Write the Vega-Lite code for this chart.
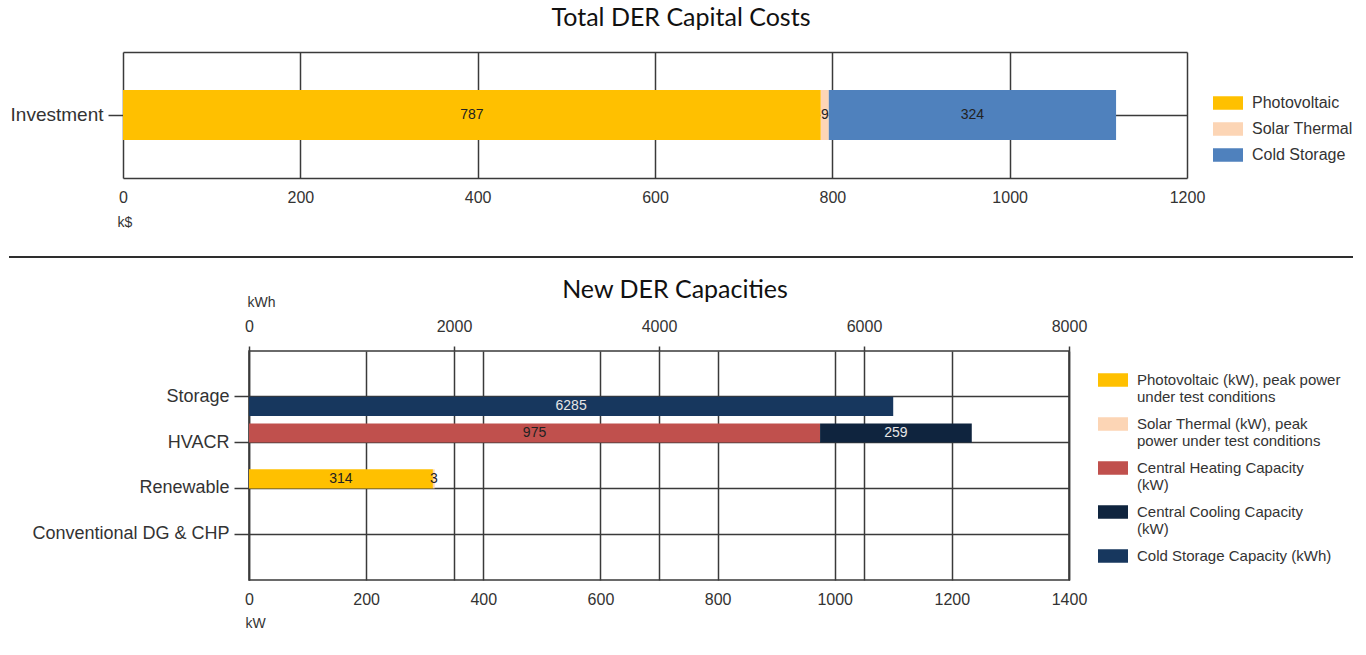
{
  "$schema": "https://vega.github.io/schema/vega-lite/v6.json",
  "background": "white",
  "padding": {"left": 8, "top": 6, "right": 6, "bottom": 4},
  "config": {
    "view": {"stroke": "#3a3a3a", "strokeWidth": 1.5},
    "axis": {
      "labelFont": "Liberation Sans", "labelFontSize": 16, "labelColor": "#333",
      "titleFont": "Liberation Sans", "titleFontSize": 14, "titleFontWeight": "normal", "titleColor": "#333",
      "gridColor": "#3a3a3a", "gridWidth": 1.5, "gridOpacity": 1,
      "tickColor": "#3a3a3a", "tickWidth": 1.5, "domain": false,
      "domainColor": "#3a3a3a", "domainWidth": 1.5,
      "labelFlush": false, "labelOverlap": false, "labelLimit": 400
    },
    "legend": {
      "labelFont": "Liberation Sans", "labelColor": "#333", "labelFontSize": 15,
      "symbolType": "M-1,-0.45H1V0.45H-1Z", "symbolSize": 900,
      "symbolStrokeWidth": 0, "symbolOpacity": 1, "labelLimit": 300, "labelOffset": 9
    },
    "title": {"font": "Lato", "fontSize": 25, "fontWeight": "normal", "color": "#111", "anchor": "middle", "frame": "bounds"}
  },
  "resolve": {"scale": {"color": "independent", "x": "independent", "y": "independent"}, "legend": {"color": "independent"}},
  "spacing": 27,
  "vconcat": [
    {
      "title": {"text": "Total DER Capital Costs", "offset": 21},
      "width": 938,
      "height": 126,
      "view": {"stroke": null},
      "data": {"values": [
        {"category": "Investment", "series": "Photovoltaic", "value": 787, "seq": 1},
        {"category": "Investment", "series": "Solar Thermal", "value": 9, "seq": 2},
        {"category": "Investment", "series": "Cold Storage", "value": 324, "seq": 3}
      ]},
      "transform": [
        {"stack": "value", "groupby": ["category"], "sort": [{"field": "seq", "order": "ascending"}], "as": ["v0", "v1"]},
        {"calculate": "(datum.v0 + datum.v1) / 2", "as": "mid"}
      ],
      "encoding": {
        "y": {"field": "category", "type": "nominal", "title": null,
          "scale": {"paddingInner": 0, "paddingOuter": 0},
          "axis": {"grid": true, "tickBand": "center", "ticks": true, "tickSize": 15, "labelPadding": 5, "labelFontSize": 19, "offset": 126, "minExtent": 114, "maxExtent": 114}}
      },
      "layer": [
        {
          "mark": {"type": "bar", "size": 50},
          "encoding": {
            "x": {"field": "v0", "type": "quantitative", "title": "k$",
              "scale": {"domain": [0, 1200], "nice": false, "range": [-126, 938]},
              "axis": {"values": [0, 200, 400, 600, 800, 1000, 1200], "format": "d", "grid": true, "ticks": false, "domain": true, "labelPadding": 11, "titleX": -132, "titleAlign": "left", "titleAnchor": "start", "titlePadding": 10}},
            "x2": {"field": "v1"},
            "color": {"field": "series", "type": "nominal",
              "scale": {"domain": ["Photovoltaic", "Solar Thermal", "Cold Storage"], "range": ["#FFC000", "#FCD5B5", "#4F81BD"]},
              "legend": {"title": null, "orient": "none", "legendX": 964, "legendY": 36, "rowPadding": 3, "labelFontSize": 16}}
          }
        },
        {
          "mark": {"type": "text", "font": "Liberation Sans", "fontSize": 14, "baseline": "middle", "align": "center"},
          "encoding": {
            "x": {"field": "mid", "type": "quantitative", "title": null,
              "axis": {"orient": "top", "labels": false, "ticks": false, "grid": false, "domain": true, "title": null}},
            "text": {"field": "value", "type": "quantitative", "format": "d"},
            "color": {"value": "#222"}
          }
        }
      ],
      "resolve": {"axis": {"x": "independent"}}
    },
    {
      "spacing": 19,
      "resolve": {"scale": {"color": "independent", "x": "independent", "y": "independent"}, "legend": {"color": "independent"}},
      "vconcat": [
        {
          "width": 820,
          "height": 2,
          "view": {"stroke": null},
          "data": {"values": [{}]},
          "mark": {"type": "rect", "color": "#2e2e2e"},
          "encoding": {
            "x": {"datum": 0, "type": "quantitative", "scale": {"domain": [0, 1], "range": [-240, 1104]}, "axis": null},
            "x2": {"datum": 1}
          }
        },
        {
          "title": {"text": "New DER Capacities", "offset": -8},
          "width": 820,
          "height": 229,
          "data": {"values": [
            {"group": "Storage", "series": "Cold Storage Capacity (kWh)", "unit": "kWh", "value": 6285, "seq": 5},
            {"group": "HVACR", "series": "Central Heating Capacity (kW)", "unit": "kW", "value": 975, "seq": 3},
            {"group": "HVACR", "series": "Central Cooling Capacity (kW)", "unit": "kW", "value": 259, "seq": 4},
            {"group": "Renewable", "series": "Photovoltaic (kW), peak power under test conditions", "unit": "kW", "value": 314, "seq": 1},
            {"group": "Renewable", "series": "Solar Thermal (kW), peak power under test conditions", "unit": "kW", "value": 3, "seq": 2}
          ]},
          "transform": [
            {"stack": "value", "groupby": ["group", "unit"], "sort": [{"field": "seq", "order": "ascending"}], "as": ["v0", "v1"]},
            {"calculate": "(datum.v0 + datum.v1) / 2", "as": "mid"}
          ],
          "encoding": {
            "y": {"field": "group", "type": "nominal", "title": null,
              "scale": {"domain": ["Storage", "HVACR", "Renewable", "Conventional DG & CHP"], "paddingInner": 0, "paddingOuter": 0.5},
              "axis": {"grid": true, "tickBand": "center", "ticks": true, "tickSize": 15, "labelPadding": 5, "labelFontSize": 18, "minExtent": 240, "maxExtent": 240}},
            "yOffset": {"field": "unit", "type": "nominal", "scale": {"domain": ["kW", "kWh"], "paddingInner": 0, "paddingOuter": 0.2}}
          },
          "layer": [
            {
              "transform": [{"filter": "datum.unit == 'kW'"}],
              "layer": [
                {
                  "mark": {"type": "bar"},
                  "encoding": {
                    "x": {"field": "v0", "type": "quantitative", "title": "kW",
                      "scale": {"domain": [0, 1400], "nice": false},
                      "axis": {"orient": "bottom", "values": [0, 200, 400, 600, 800, 1000, 1200, 1400], "format": "d", "grid": true, "ticks": false, "labelPadding": 11, "titleX": -4, "titleAlign": "left", "titleAnchor": "start", "titlePadding": 9}},
                    "x2": {"field": "v1"},
                    "color": {"field": "series", "type": "nominal",
                      "scale": {"domain": ["Photovoltaic (kW), peak power under test conditions", "Solar Thermal (kW), peak power under test conditions", "Central Heating Capacity (kW)", "Central Cooling Capacity (kW)", "Cold Storage Capacity (kWh)"],
                        "range": ["#FFC000", "#FCD5B5", "#C0504D", "#0F243E", "#17375E"]},
                      "legend": {"title": null, "orient": "none", "legendX": 849, "legendY": 14, "rowPadding": 4, "labelFontSize": 15,
                        "labelExpr": "datum.label == 'Photovoltaic (kW), peak power under test conditions' ? ['Photovoltaic (kW), peak power', 'under test conditions'] : datum.label == 'Solar Thermal (kW), peak power under test conditions' ? ['Solar Thermal (kW), peak', 'power under test conditions'] : datum.label == 'Central Heating Capacity (kW)' ? ['Central Heating Capacity', '(kW)'] : datum.label == 'Central Cooling Capacity (kW)' ? ['Central Cooling Capacity', '(kW)'] : datum.label"}}
                  }
                },
                {
                  "mark": {"type": "text", "font": "Liberation Sans", "fontSize": 14, "baseline": "middle", "align": "center"},
                  "encoding": {
                    "x": {"field": "mid", "type": "quantitative", "title": "kW"},
                    "text": {"field": "value", "type": "quantitative", "format": "d"},
                    "color": {"condition": {"test": "datum.series == 'Central Cooling Capacity (kW)'", "value": "#e6e6e6"}, "value": "#222"}
                  }
                }
              ]
            },
            {
              "transform": [{"filter": "datum.unit == 'kWh'"}],
              "layer": [
                {
                  "mark": {"type": "bar"},
                  "encoding": {
                    "x": {"field": "v0", "type": "quantitative", "title": "kWh",
                      "scale": {"domain": [0, 8000], "nice": false},
                      "axis": {"orient": "top", "values": [0, 2000, 4000, 6000, 8000], "format": "d", "grid": true, "ticks": true, "tickSize": 5, "labelPadding": 12, "titleX": -2, "titleAlign": "left", "titleAnchor": "start", "titlePadding": 9}},
                    "x2": {"field": "v1"},
                    "color": {"field": "series", "type": "nominal"}
                  }
                },
                {
                  "mark": {"type": "text", "font": "Liberation Sans", "fontSize": 14, "baseline": "middle", "align": "center"},
                  "encoding": {
                    "x": {"field": "mid", "type": "quantitative", "title": "kWh"},
                    "text": {"field": "value", "type": "quantitative", "format": "d"},
                    "color": {"value": "#e6e6e6"}
                  }
                }
              ]
            }
          ],
          "resolve": {"scale": {"x": "independent"}, "axis": {"x": "independent"}}
        }
      ]
    }
  ]
}
